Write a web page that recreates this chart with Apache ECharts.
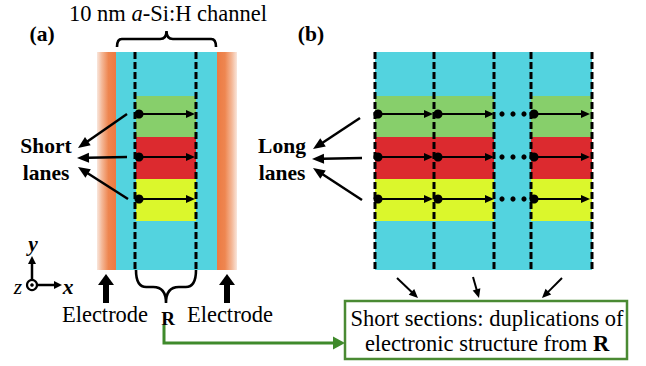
<!DOCTYPE html>
<html><head><meta charset="utf-8">
<script src="https://cdn.jsdelivr.net/npm/echarts@6/dist/echarts.min.js"></script>
<style>html,body{margin:0;padding:0;background:#fff}#c{width:646px;height:366px}</style>
</head><body><div id="c"></div>
<script>
// Diagram values (figure units, 646 x 366 plane)
const laneBands = [[96,137],[137,179],[179,221]];          // green, red, yellow lanes (y ranges)
const channelA = [116,52,217,270];                          // 10 nm channel, panel (a)
const sectionR = [136,196];                                 // region R (x range)
const channelB = [375,52,592,270];                          // long channel, panel (b)
const laneSpansB = [[375,494],[531,592]];                   // lane x ranges in panel (b)
const electrodesX = [[97,116],[217,237]];                   // electrode x ranges
const dashXA = [135,196];
const dashXB = [375,434,494,531,592];
const dashY = [52,270];
const laneArrowY = [114,157,199];
const laneArrowsA = [[139,195]];
const laneArrowsB = [[378,433],[438,494],[534,590]];
const ellipsisX = [502,513,524];
const shortLaneArrows = [[127,114,78,148],[127,157,77,158],[128,199,78,167]];
const longLaneArrows = [[360,118,313,149],[362,158,312,159],[362,200,313,168]];
const sectionArrows = [[397,278,418,298],[473,277,479,298],[562,278,542,298]];
const electrodeArrows = [[106,303,106,274],[227,303,227,274]];
const axisArrows = [[32,285,32,256],[32,285,62,285]];
const axisOrigin = [32,285];
const braces = [[117,216,47,39,31],[136,196,270,287,303]]; // x0, x1, yEnd, yMid, yTip
const connector = [164,325,164,343,345,343];
const summaryBox = [345,301,627,359];
const labelTexts = ['10 nm {i|a}-Si:H channel','(a)','(b)','Short','lanes','Long','lanes',
  'Electrode','Electrode','R','y','x','z','Short sections: duplications of','electronic structure from {b|R}'];
const labelPos = [[168,13],[42,34],[311,34],[46,146],[46,173],[282,146],[282,173],
  [105,314],[230,314],[168,318],[33,244],[68,287],[18,287],[487,318],[487,343]];
const labelKinds = ['plain','bold','bold','bold','bold','bold','bold','plain','plain','R','bi','bi','it','plain','plain'];

const FONT = 'Liberation Serif, Times New Roman, serif';
const CYAN = '#53d3df', LANE_COLORS = ['#87cf6b','#dc2a2f','#dbf72c'];
const INK = '#000';

const rectData = [];
rectData.push([...channelA, 0]);
rectData.push([...channelB, 0]);
laneBands.forEach((b,i)=>{
  rectData.push([sectionR[0], b[0], sectionR[1], b[1], i+1]);
  laneSpansB.forEach(s=>rectData.push([s[0], b[0], s[1], b[1], i+1]));
});
rectData.push([electrodesX[0][0], dashY[0], electrodesX[0][1], dashY[1], 4]);
rectData.push([electrodesX[1][0], dashY[0], electrodesX[1][1], dashY[1], 5]);

const dashData = dashXA.concat(dashXB).map(x=>[x, dashY[0], dashY[1]]);
const laneArrowData = [];
laneArrowY.forEach(y=>{
  laneArrowsA.concat(laneArrowsB).forEach(a=>laneArrowData.push([a[0], a[1], y]));
});
const dotData = [];
laneArrowY.forEach(y=>ellipsisX.forEach(x=>dotData.push([x,y])));
const arrowData = [];
shortLaneArrows.concat(longLaneArrows).forEach(a=>arrowData.push([...a,0]));
sectionArrows.forEach(a=>arrowData.push([...a,1]));
electrodeArrows.forEach(a=>arrowData.push([...a,2]));
axisArrows.forEach(a=>arrowData.push([...a,3]));

function arrowEls(p0,p1,lw,hl,hw,color){
  const dx=p1[0]-p0[0], dy=p1[1]-p0[1], L=Math.hypot(dx,dy), ux=dx/L, uy=dy/L;
  const bx=p1[0]-ux*hl, by=p1[1]-uy*hl, nx=-uy, ny=ux;
  return [
    {type:'line', shape:{x1:p0[0],y1:p0[1],x2:bx+ux,y2:by+uy}, style:{stroke:color,lineWidth:lw}},
    {type:'polygon', shape:{points:[[p1[0],p1[1]],[bx+nx*hw/2,by+ny*hw/2],[bx-nx*hw/2,by-ny*hw/2]]}, style:{fill:color}}
  ];
}
const ARROW_STYLE = [[2.5,12,10],[2,9,8],[6,11,16],[2.5,8,8]];

const chart = echarts.init(document.getElementById('c'), null, {renderer:'svg'});
const base = {type:'custom', coordinateSystem:'cartesian2d', clip:false, silent:true, animation:false};
chart.setOption({
  animation:false,
  grid:{left:0,right:0,top:0,bottom:0},
  xAxis:{type:'value', min:0, max:646, show:false},
  yAxis:{type:'value', min:0, max:366, inverse:true, show:false},
  series:[
    Object.assign({}, base, {data:rectData, renderItem(p, api){
      const a = api.coord([api.value(0), api.value(1)]), b = api.coord([api.value(2), api.value(3)]);
      const k = api.value(4);
      let fill;
      if (k===0) fill = CYAN;
      else if (k<=3) fill = LANE_COLORS[k-1];
      else {
        const stops = [{offset:0,color:'#f9e6dc'},{offset:0.25,color:'#f4b999'},{offset:0.6,color:'#ee8650'},{offset:1,color:'#ec7a42'}];
        fill = new echarts.graphic.LinearGradient(k===4?0:1,0,k===4?1:0,0,stops);
      }
      return {type:'rect', shape:{x:a[0], y:a[1], width:b[0]-a[0], height:b[1]-a[1]}, style:{fill}};
    }}),
    Object.assign({}, base, {data:dashData, renderItem(p, api){
      const a = api.coord([api.value(0), api.value(1)]), b = api.coord([api.value(0), api.value(2)]);
      return {type:'line', shape:{x1:a[0],y1:a[1],x2:b[0],y2:b[1]}, style:{stroke:INK,lineWidth:3,lineDash:[7,3]}};
    }}),
    Object.assign({}, base, {data:laneArrowData, renderItem(p, api){
      const a = api.coord([api.value(0), api.value(2)]), b = api.coord([api.value(1), api.value(2)]);
      return {type:'group', children:[
        {type:'circle', shape:{cx:a[0], cy:a[1], r:4.5}, style:{fill:INK}},
        ...arrowEls(a,b,2.2,9,8,INK)
      ]};
    }}),
    Object.assign({}, base, {data:dotData, renderItem(p, api){
      const a = api.coord([api.value(0), api.value(1)]);
      return {type:'circle', shape:{cx:a[0], cy:a[1], r:2.6}, style:{fill:INK}};
    }}),
    Object.assign({}, base, {data:arrowData, renderItem(p, api){
      const a = api.coord([api.value(0), api.value(1)]), b = api.coord([api.value(2), api.value(3)]);
      const s = ARROW_STYLE[api.value(4)];
      return {type:'group', children:arrowEls(a,b,s[0],s[1],s[2],INK)};
    }}),
    Object.assign({}, base, {data:[axisOrigin], renderItem(p, api){
      const a = api.coord([api.value(0), api.value(1)]);
      return {type:'group', children:[
        {type:'circle', shape:{cx:a[0], cy:a[1], r:5}, style:{fill:'#fff', stroke:INK, lineWidth:2.2}},
        {type:'circle', shape:{cx:a[0], cy:a[1], r:1.8}, style:{fill:INK}}
      ]};
    }}),
    Object.assign({}, base, {data:braces, renderItem(p, api){
      const x0=api.coord([api.value(0),0])[0], x1=api.coord([api.value(1),0])[0];
      const ye=api.coord([0,api.value(2)])[1], ym=api.coord([0,api.value(3)])[1], yt=api.coord([0,api.value(4)])[1];
      const xc=(x0+x1)/2, r=Math.abs(ym-ye)*0.6, rt=Math.abs(yt-ym)*0.8;
      const d = `M${x0},${ye} Q${x0},${ym} ${x0+r},${ym} L${xc-rt},${ym} Q${xc},${ym} ${xc},${yt} Q${xc},${ym} ${xc+rt},${ym} L${x1-r},${ym} Q${x1},${ym} ${x1},${ye}`;
      return {type:'path', shape:{pathData:d}, style:{stroke:INK, lineWidth:2.6, fill:null}};
    }}),
    Object.assign({}, base, {data:[summaryBox], renderItem(p, api){
      const a = api.coord([api.value(0), api.value(1)]), b = api.coord([api.value(2), api.value(3)]);
      return {type:'rect', shape:{x:a[0], y:a[1], width:b[0]-a[0], height:b[1]-a[1]}, style:{fill:'#fff', stroke:'#4a8a33', lineWidth:2.5}};
    }}),
    Object.assign({}, base, {data:[connector], renderItem(p, api){
      const q0=api.coord([api.value(0),api.value(1)]), q1=api.coord([api.value(2),api.value(3)]), q2=api.coord([api.value(4),api.value(5)]);
      const col='#3f8a2b';
      const head = arrowEls(q1,q2,3,12,13,col);
      return {type:'group', children:[
        {type:'polyline', shape:{points:[q0,q1,[q2[0]-12,q2[1]]]}, style:{stroke:col, lineWidth:3, fill:null}},
        head[1]
      ]};
    }}),
    Object.assign({}, base, {data:labelPos, renderItem(p, api){
      const a = api.coord([api.value(0), api.value(1)]);
      const i = p.dataIndex, k = labelKinds[i];
      const fs = (k==='plain') ? 22.5 : 21.5;
      const st = {text:labelTexts[i], fontFamily:FONT, fontSize:fs, fill:INK, align:'center', verticalAlign:'middle',
        fontWeight:(k==='bold'||k==='R'||k==='bi')?'bold':'normal', fontStyle:(k==='bi'||k==='it')?'italic':'normal',
        rich:{i:{fontFamily:FONT, fontSize:fs, fontStyle:'italic', fill:INK}, b:{fontFamily:FONT, fontSize:fs, fontWeight:'bold', fill:INK}}};
      if (k==='R') st.fontSize = 19;
      return {type:'text', x:a[0], y:a[1], style:st};
    }})
  ]
});
</script></body></html>
